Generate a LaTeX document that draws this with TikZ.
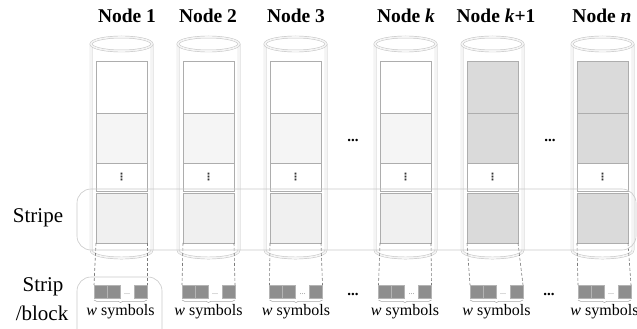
\documentclass[tikz,border=0pt]{standalone}
\usepackage{fontspec}
\setmainfont{Liberation Serif}
\newfontfamily\symfont{DejaVu Sans}
\usetikzlibrary{decorations.pathreplacing}
\definecolor{tubeline}{HTML}{BFBFBF}
\definecolor{tubefill}{HTML}{F4F4F4}
\definecolor{boxline}{HTML}{ADADAD}
\definecolor{dmid}{HTML}{F5F5F5}
\definecolor{dlow}{HTML}{F0F0F0}
\definecolor{par}{HTML}{DADADA}
\definecolor{symfill}{HTML}{8E8E8E}
\definecolor{symedge}{HTML}{B4B4B4}
\definecolor{linkgray}{HTML}{7A7A7A}
\definecolor{framegray}{HTML}{C8C8C8}
\begin{document}
\begin{tikzpicture}[x=1pt,y=-1pt,
  tube/.style={draw=tubeline,line width=0.45pt,double=tubefill,double distance=1.6pt},
  cell/.style={draw=boxline,line width=0.6pt},
  lbl/.style={font=\fontsize{19.5}{20}\selectfont\bfseries,inner sep=0pt},
  side/.style={font=\fontsize{21}{22}\selectfont,inner sep=0pt},
  small/.style={font=\fontsize{16}{16}\selectfont,inner sep=0pt},
  sym/.style={fill=symfill,draw=symedge,line width=0.5pt},
  link/.style={draw=linkgray,dash pattern=on 3pt off 2pt,line width=0.6pt},
  frame/.style={draw=framegray,line width=0.6pt,rounded corners=14pt},
  bracegray/.style={draw=gray!70,line width=0.5pt,decorate,
    decoration={brace,mirror,amplitude=2.5pt}},
  hdots/.style={font=\fontsize{15}{15}\selectfont\bfseries,inner sep=0pt},
  vdotsym/.style={font=\symfont\bfseries\fontsize{10}{10}\selectfont,inner sep=0pt,text=black!80},
]
\useasboundingbox (0,0) rectangle (637,329);

% one storage node per entry: tube centre, strip centre, label centre, label, fills, id
\foreach \cx/\sx/\lx/\lab/\fa/\fb/\fc/\id in {
  121.5/120.5/127/{Node 1}/white/dmid/dlow/1,
  208.5/208.5/208/{Node 2}/white/dmid/dlow/2,
  295.5/296/296/{Node 3}/white/dmid/dlow/3,
  405.5/405/406/{Node \textit{k}}/white/dmid/dlow/4,
  492.5/496.5/496/{Node \textit{k}+1}/par/par/par/5,
  602.5/604.5/602/{Node \textit{n}}/par/par/par/6}
{
  % label
  \node[lbl] (lab\id) at (\lx,16) {\lab};
  % tube body and lid
  \path[fill=white] ({\cx-30.5},44) -- ({\cx-30.5},250)
    .. controls ({\cx-30.5},260.7) and ({\cx+30.5},260.7) .. ({\cx+30.5},250)
    -- ({\cx+30.5},44) -- cycle;
  \draw[tube] ({\cx-30.5},44) -- ({\cx-30.5},250)
    .. controls ({\cx-30.5},260.7) and ({\cx+30.5},260.7) .. ({\cx+30.5},250)
    -- ({\cx+30.5},44);
  \draw[tube,fill=white] (\cx,44) ellipse [x radius=30.5, y radius=7];
  % blocks held by the node
  \draw[cell,fill=\fa] ({\cx-25.5},61) rectangle ({\cx+25.5},113);
  \draw[cell,fill=\fb] ({\cx-25.5},113) rectangle ({\cx+25.5},163);
  \draw[cell,fill=white] ({\cx-25.5},163) rectangle ({\cx+25.5},191);
  \node[vdotsym] (vd\id) at (\cx,177) {⋮};
  \draw[cell,fill=\fc] ({\cx-25.5},193) rectangle ({\cx+25.5},243);
  \coordinate (bl\id) at ({\cx-25.5},243);
  \coordinate (br\id) at ({\cx+25.5},243);
  % strip of w symbols
  \coordinate (sl\id) at ({\sx-26.5},285);
  \coordinate (sr\id) at ({\sx+26.5},285);
  \draw[link] (bl\id) -- (sl\id);
  \draw[link] (br\id) -- (sr\id);
  \draw[sym] ({\sx-26.5},285) rectangle ({\sx-13.5},298);
  \draw[sym] ({\sx-13.5},285) rectangle ({\sx-0.5},298);
  \node[inner sep=0pt,font=\fontsize{8}{8}\selectfont,text=gray] (sd\id) at ({\sx+6.5},294) {...};
  \draw[sym] ({\sx+13.5},285) rectangle ({\sx+26.5},298);
  \draw[bracegray] ({\sx-26.5},300) -- ({\sx+26.5},300);
  \node[small] (ws\id) at (\sx,312) {\textit{w} symbols};
}

% gaps between node groups
\node[hdots] (gapa) at (353,140) {...};
\node[hdots] (gapb) at (550,140) {...};
\node[hdots] (gapc) at (353,294) {...};
\node[hdots] (gapd) at (549,294) {...};

% stripe and strip outlines
\draw[frame] (77,189) rectangle (636,250);
\draw[frame] (77,277) rectangle (162,345);

% row captions
\node[side] (stripe) at (38,218) {Stripe};
\node[side] (strip) at (43,287) {Strip};
\node[side] (block) at (42,313) {/block};
\end{tikzpicture}
\end{document}
